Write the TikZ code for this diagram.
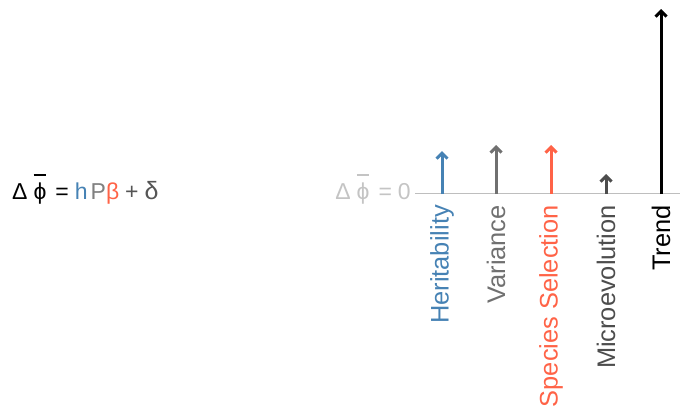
\documentclass[tikz,border=0pt]{standalone}
\usepackage{fontspec}
\setmainfont{Liberation Sans}
\usetikzlibrary{arrows.meta}

\definecolor{heritblue}{HTML}{4682B4}
\definecolor{vargrey}{HTML}{707070}
\definecolor{selred}{HTML}{FF6347}
\definecolor{microgrey}{HTML}{4D4D4D}
\definecolor{pgrey}{HTML}{808080}
\definecolor{deltagrey}{HTML}{555555}
\definecolor{zerogrey}{HTML}{C4C4C4}
\definecolor{axisgrey}{HTML}{BEBEBE}

% phi with a bar over it
\newcommand\phibar{\ooalign{ϕ\cr\hidewidth\rule[1.02em]{0.55em}{1.6pt}\hidewidth\cr}}

\tikzset{
  eqtext/.style={inner sep=0pt, font=\fontsize{23}{27}\selectfont},
  lab/.style={rotate=90, anchor=east, inner sep=0pt, font=\fontsize{25.4}{29}\selectfont},
  vec/.style={line width=3pt, -{Straight Barb[length=5.5pt,width=11pt]}},
  axisline/.style={line width=1.3pt, draw=axisgrey}
}

\begin{document}
\begin{tikzpicture}[x=1pt,y=-1pt]
\useasboundingbox (0,0) rectangle (680,408);

% Price equation
\node[eqtext, anchor=base west] (price) at (12,199)
  {Δ\hspace{6pt}\phibar\hspace{9pt}=\hspace{6pt}\textcolor{heritblue}{h}\hspace{3pt}\textcolor{pgrey}{P}\textcolor{selred}{β}\hspace{6pt}\textcolor{deltagrey}{+\hspace{6pt}\fontsize{25}{29}\selectfont δ}};

% zero line
\node[eqtext, anchor=base east, text=zerogrey] (zero) at (411,199)
  {Δ\hspace{6pt}\phibar\hspace{9pt}=\hspace{6pt}0};
\coordinate (axL) at (415,193.5);
\coordinate (axR) at (680,193.5);
\draw[axisline] (axL) -- (axR);

% component vectors
\coordinate (h0) at (442,194); \coordinate (h1) at (442,151);
\coordinate (v0) at (496,194); \coordinate (v1) at (496,145);
\coordinate (s0) at (551,194); \coordinate (s1) at (551,145);
\coordinate (m0) at (606,194); \coordinate (m1) at (606,174);
\coordinate (t0) at (661,194); \coordinate (t1) at (661,9);

\draw[vec, heritblue] (h0) -- (h1);
\draw[vec, vargrey] (v0) -- (v1);
\draw[vec, selred] (s0) -- (s1);
\draw[vec, microgrey] (m0) -- (m1);
\draw[vec, black] (t0) -- (t1);

% labels
\node[lab, text=heritblue] (lh) at (442,205) {Heritability};
\node[lab, text=vargrey] (lv) at (496,205) {Variance};
\node[lab, text=selred] (ls) at (551,205) {Species Selection};
\node[lab, text=microgrey] (lm) at (606,205) {Microevolution};
\node[lab, text=black] (lt) at (661,205) {Trend};
\end{tikzpicture}
\end{document}
